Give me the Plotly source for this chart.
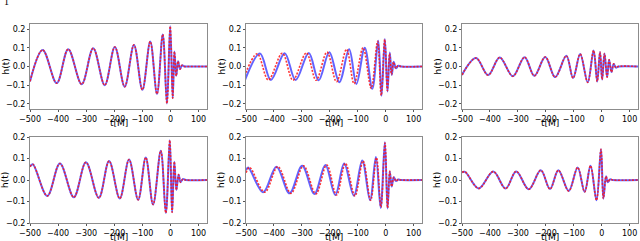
import plotly.graph_objects as go

# ---- data (extrema of each waveform) ----
p1_t = [-500, -455, -405, -364, -316, -275, -234, -198, -163, -130, -100, -72, -48, -27.5, -12.6, -1, 8, 14, 20.5, 27, 34, 41, 50, 60, 130]
p1_h = [-0.080, 0.089, -0.089, 0.093, -0.095, 0.098, -0.100, 0.105, -0.108, 0.116, -0.125, 0.134, -0.147, 0.172, -0.198, 0.216, -0.170, 0.080, -0.050, 0.028, -0.014, 0.006, 0, 0, 0]

p2_blue_t = [-503, -450, -411, -361.6, -322.5, -275.3, -240, -201.8, -166, -130.8, -104.8, -75, -48, -26.7, -14.9, -3, 6.6, 14.7, 21.8, 28.9, 37, 45, 55, 130]
p2_blue_h = [-0.070, 0.070, -0.072, 0.071, -0.073, 0.073, -0.074, 0.077, -0.084, 0.092, -0.094, 0.101, -0.120, 0.138, -0.157, 0.147, -0.134, 0.075, -0.045, 0.025, -0.010, 0.004, 0, 0]
p2_red_t = [-510, -460, -420, -370, -332, -284, -249, -210, -176, -140, -113, -81, -52, -29, -16, -3.5, 6, 14, 21, 28, 36, 44, 55, 130]
p2_red_h = [-0.070, 0.068, -0.072, 0.071, -0.073, 0.073, -0.074, 0.077, -0.082, 0.092, -0.092, 0.100, -0.117, 0.135, -0.155, 0.145, -0.130, 0.070, -0.043, 0.024, -0.010, 0.004, 0, 0]

p3_t = [-500, -450, -406.5, -365, -318, -276, -241, -202, -166.6, -126.5, -102.4, -77, -50, -29, -16, -6, 1.6, 10, 19.4, 26.5, 35, 43, 51, 60, 130]
p3_h = [-0.045, 0.045, -0.046, 0.048, -0.052, 0.050, -0.050, 0.051, -0.057, 0.057, -0.062, 0.067, -0.085, 0.086, -0.080, 0.078, -0.070, 0.070, -0.057, 0.036, -0.030, 0.014, -0.006, 0, 0]

p4_t = [-500, -490, -438.5, -393.5, -344, -301, -255, -218.5, -180.5, -147.5, -115, -88, -62, -34.5, -16.5, -2.5, 5.8, 13.6, 21, 29, 36, 44, 55, 130]
p4_h = [0.062, 0.073, -0.074, 0.077, -0.080, 0.082, -0.083, 0.088, -0.086, 0.095, -0.092, 0.105, -0.114, 0.136, -0.153, 0.185, -0.150, 0.085, -0.046, 0.025, -0.010, 0.004, 0, 0]

p5_blue_t = [-500, -492, -438.5, -391, -344, -299, -255, -216, -180.5, -148.6, -114, -84, -56, -35, -18, -3, 6.6, 14.7, 21.5, 29, 37, 45, 55, 130]
p5_blue_h = [0.046, 0.058, -0.057, 0.062, -0.062, 0.066, -0.065, 0.070, -0.070, 0.077, -0.073, 0.091, -0.094, 0.107, -0.130, 0.176, -0.132, 0.040, -0.030, 0.013, -0.005, 0.002, 0, 0]
p5_red_t = [-500, -487, -433, -386, -339, -294, -250, -211, -176, -144, -110, -81, -54, -33, -17, -2.5, 6.8, 14.7, 21.5, 29, 37, 45, 55, 130]
p5_red_h = [0.034, 0.058, -0.057, 0.062, -0.062, 0.066, -0.065, 0.070, -0.070, 0.077, -0.074, 0.089, -0.094, 0.104, -0.126, 0.172, -0.130, 0.040, -0.030, 0.013, -0.005, 0.002, 0, 0]

p6_t = [-500, -489, -440, -388, -344, -306, -261, -218, -185, -155, -118, -86, -61, -40, -18.5, -2.5, 6, 15.6, 22, 30, 40, 130]
p6_h = [0.036, 0.038, -0.039, 0.039, -0.040, 0.040, -0.043, 0.045, -0.042, 0.045, -0.051, 0.058, -0.055, 0.066, -0.094, 0.143, -0.086, 0.017, -0.010, 0.003, 0, 0]

x_ticks = [-500, -400, -300, -200, -100, 0, 100]
y_ticks = [-0.2, -0.1, 0.0, 0.1, 0.2]
x_label = "t[M]"
y_label = "h(t)"

panels = [
    (p1_t, p1_h, p1_t, p1_h),
    (p2_blue_t, p2_blue_h, p2_red_t, p2_red_h),
    (p3_t, p3_h, p3_t, p3_h),
    (p4_t, p4_h, p4_t, p4_h),
    (p5_blue_t, p5_blue_h, p5_red_t, p5_red_h),
    (p6_t, p6_h, p6_t, p6_h),
]

W, H = 640, 241
xdom_px = [(30, 207), (246, 422), (462, 638)]
ydom_px = [(24, 109), (137, 223)]
yranges = [[-0.228, 0.228], [-0.2, 0.2]]

BLUE = "rgba(60,60,255,0.8)"
RED = "rgba(255,20,20,0.85)"
FONT = "DejaVu Sans"

fig = go.Figure()
layout = dict(width=W, height=H, margin=dict(l=0, r=0, t=0, b=0, autoexpand=False),
              paper_bgcolor="white", plot_bgcolor="white", showlegend=False,
              font=dict(family=FONT, size=8, color="black"))
annotations = []
for i, (bt, bh, rt, rh) in enumerate(panels):
    r, c = divmod(i, 3)
    ax = "" if i == 0 else str(i + 1)
    fig.add_trace(go.Scatter(x=bt, y=bh, mode="lines", line=dict(color=BLUE, width=2, shape="spline", smoothing=1),
                             xaxis="x" + ax, yaxis="y" + ax, hoverinfo="skip"))
    fig.add_trace(go.Scatter(x=rt, y=rh, mode="lines",
                             line=dict(color=RED, width=1.6, dash="2px,1.5px", shape="spline", smoothing=1),
                             xaxis="x" + ax, yaxis="y" + ax, hoverinfo="skip"))
    x0, x1 = xdom_px[c]
    y0, y1 = ydom_px[r]
    common = dict(showline=True, mirror=True, linecolor="#8c8c8c", linewidth=1, showgrid=False, zeroline=False,
                  ticks="outside", ticklen=2, tickcolor="#555", tickfont=dict(family=FONT, size=8),
                  automargin=False)
    layout["xaxis" + ax] = dict(domain=[x0 / W, x1 / W], range=[-500, 130], tickvals=x_ticks,
                                anchor="y" + ax, **common)
    layout["yaxis" + ax] = dict(domain=[1 - y1 / H, 1 - y0 / H], range=yranges[r], tickvals=y_ticks,
                                tickformat=".1f", anchor="x" + ax, **common)
    annotations.append(dict(text=x_label, x=(x0 + x1) / 2 / W, y=1 - (y1 + 13.5) / H, xref="paper", yref="paper",
                            showarrow=False, xanchor="center", yanchor="middle", font=dict(family=FONT, size=9)))
    annotations.append(dict(text=y_label, x=(x0 - 25) / W, y=1 - (y0 + y1) / 2 / H, xref="paper", yref="paper",
                            showarrow=False, xanchor="center", yanchor="middle", textangle=-90,
                            font=dict(family=FONT, size=9)))
annotations.append(dict(text="1", x=6 / W, y=1 - 2 / H, xref="paper", yref="paper", showarrow=False,
                        xanchor="center", yanchor="middle", font=dict(family="Liberation Serif", size=10)))
layout["annotations"] = annotations
fig.update_layout(**layout)
fig.write_html("out.html", config={"displayModeBar": False},
               post_script="document.body.style.margin='0';document.body.style.overflow='hidden';")
